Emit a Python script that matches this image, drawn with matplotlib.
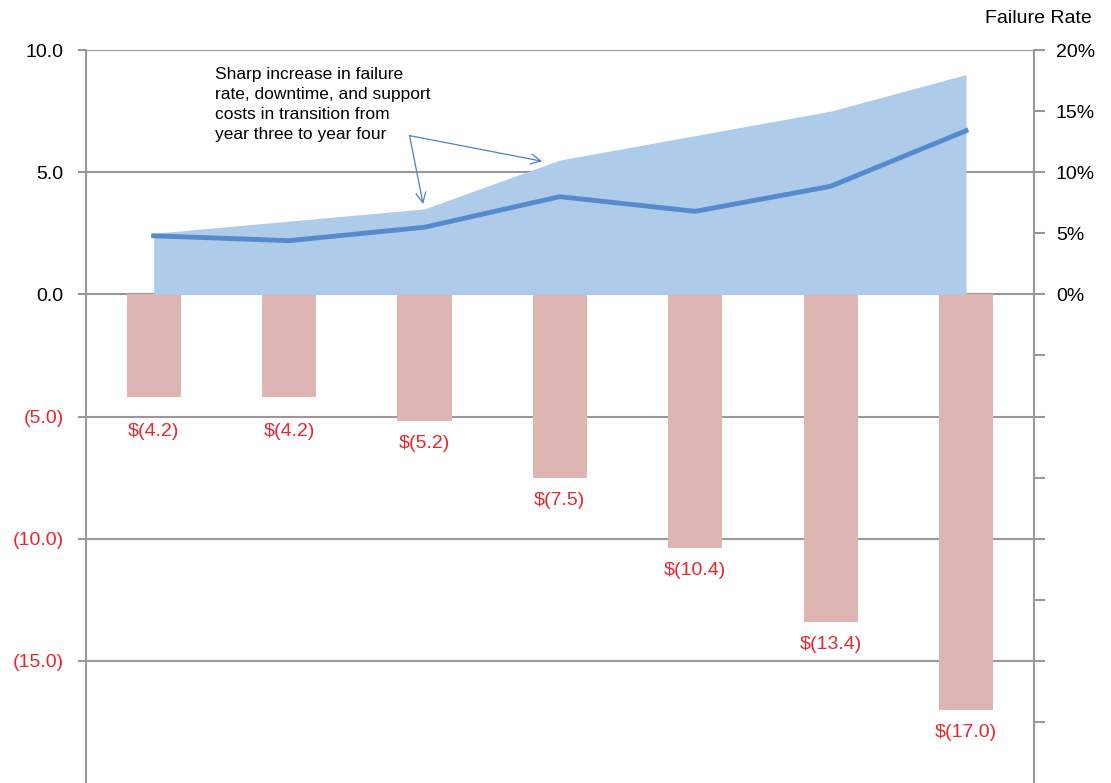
import matplotlib.pyplot as plt
import numpy as np
from matplotlib.ticker import FuncFormatter

plt.rcParams['font.family'] = ['Liberation Sans', 'DejaVu Sans']

# data
years = ['1', '2', '3', '4', '5', '6', '7']
cost = [-4.2, -4.2, -5.2, -7.5, -10.4, -13.4, -17.0]        # $M, left axis
failure_area = [5, 6, 7, 11, 13, 15, 18]                     # %, right axis
failure_line = [4.8, 4.4, 5.5, 8.0, 6.8, 8.85, 13.4]         # %, right axis

red = '#E8262E'
grey = '#999999'

fig = plt.figure(figsize=(11.11, 7.83), dpi=100)
ax = fig.add_axes([0.0774, 0.0, 0.853, 0.936])
x = np.arange(len(years))

# ———— bars (left axis)
ax.bar(x, cost, width=0.4, color='#DDB5B3', zorder=2)
for xi, v in zip(x, cost):
    # first two labels sit a little lower, clear of the (5.0) gridline
    off = 1.4 if v > -5 else 0.92
    ax.text(xi, v - off, '$(%.1f)' % abs(v), color=red, fontsize=14,
            ha='center', va='center')

ax.set_xlim(-0.5, 6.5)
ax.set_ylim(-20, 10)
ax.set_yticks([-15, -10, -5, 0, 5, 10])
ax.yaxis.set_major_formatter(FuncFormatter(
    lambda v, p: '(%.1f)' % abs(v) if v < 0 else '%.1f' % v))
for lab, v in zip(ax.get_yticklabels(), [-15, -10, -5, 0, 5, 10]):
    lab.set_color(red if v < 0 else 'black')
ax.tick_params(axis='y', labelsize=14, length=6, width=1.5, color=grey, pad=10)
ax.set_xticks([])
ax.grid(axis='y', color=grey, linewidth=1.5, zorder=0)
for s in ['top', 'right', 'bottom']:
    ax.spines[s].set_visible(False)
ax.spines['left'].set_color(grey)
ax.spines['left'].set_linewidth(1.5)

# ———— failure rate (right axis)
ax2 = ax.twinx()
ax2.fill_between(x, 0, failure_area, color='#AECBEA', linewidth=0, zorder=2)
ax2.plot(x, failure_line, color='#558ACC', linewidth=3.5, zorder=3)
ax2.set_ylim(-40, 20)
ax2.set_yticks(np.arange(-35, 21, 5))
ax2.yaxis.set_major_formatter(FuncFormatter(
    lambda v, p: '%d%%' % v if v >= 0 else ''))
ax2.tick_params(axis='y', labelsize=14, length=8, width=1.5, color=grey, pad=8)
for s in ['top', 'left', 'bottom']:
    ax2.spines[s].set_visible(False)
ax2.spines['right'].set_color(grey)
ax2.spines['right'].set_linewidth(1.5)

fig.text(0.935, 0.977, 'Failure Rate', fontsize=14, ha='center', va='center')

# annotation
ax2.text(0.45, 18.6, 'Sharp increase in failure\nrate, downtime, and support\n'
         'costs in transition from\nyear three to year four',
         fontsize=12.5, ha='left', va='top', linespacing=1.4)
for tgt in [(1.99, 7.4), (2.87, 10.9)]:
    ax2.annotate('', xy=tgt, xytext=(1.89, 13.0),
                 arrowprops=dict(arrowstyle='->', color='#4F81BD', lw=0.9,
                                 mutation_scale=18, shrinkA=0, shrinkB=0))

plt.savefig('out.png', dpi=100)
